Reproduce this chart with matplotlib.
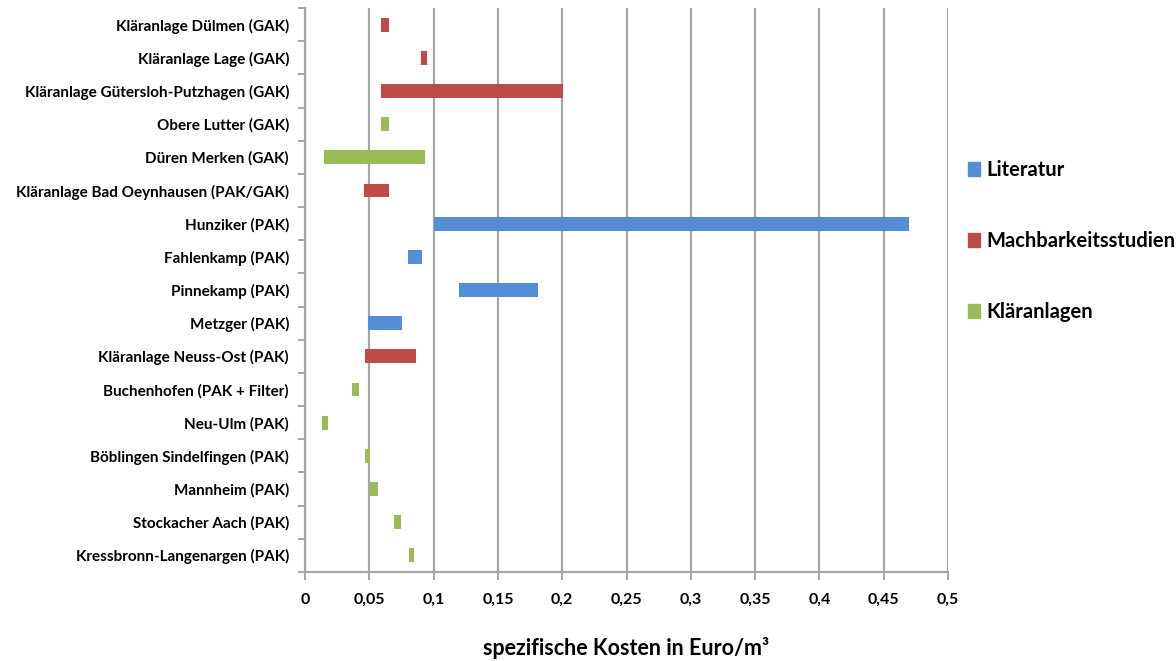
import matplotlib
matplotlib.use("Agg")
import matplotlib.pyplot as plt
from matplotlib.patches import Patch
import numpy as np

plt.rcParams['font.family'] = ['Lato', 'DejaVu Sans']
plt.rcParams['font.weight'] = 'bold'

# categories top to bottom
categories = [
    "Kläranlage Dülmen (GAK)",
    "Kläranlage Lage (GAK)",
    "Kläranlage Gütersloh-Putzhagen (GAK)",
    "Obere Lutter (GAK)",
    "Düren Merken (GAK)",
    "Kläranlage Bad Oeynhausen (PAK/GAK)",
    "Hunziker (PAK)",
    "Fahlenkamp (PAK)",
    "Pinnekamp (PAK)",
    "Metzger (PAK)",
    "Kläranlage Neuss-Ost (PAK)",
    "Buchenhofen (PAK + Filter)",
    "Neu-Ulm (PAK)",
    "Böblingen Sindelfingen (PAK)",
    "Mannheim (PAK)",
    "Stockacher Aach (PAK)",
    "Kressbronn-Langenargen (PAK)",
]
cost_min = [0.059, 0.090, 0.059, 0.059, 0.015, 0.046, 0.100, 0.080, 0.120, 0.049,
            0.047, 0.0365, 0.0135, 0.0465, 0.0505, 0.0695, 0.0805]
cost_max = [0.065, 0.095, 0.201, 0.065, 0.093, 0.065, 0.470, 0.091, 0.181, 0.0755,
            0.086, 0.042, 0.018, 0.0505, 0.0565, 0.075, 0.085]
source = ["M", "M", "M", "K", "K", "M", "L", "L", "L", "L",
          "M", "K", "K", "K", "K", "K", "K"]

group_names = {"L": "Literatur", "M": "Machbarkeitsstudien", "K": "Kläranlagen"}
group_colors = {"L": "#558ED5", "M": "#BE4B48", "K": "#9BBB59"}

fig = plt.figure(figsize=(11.76, 6.61), dpi=100)
ax = fig.add_axes([305/1176, 1 - 572/661, (948 - 305)/1176, (572 - 8)/661])

y = np.arange(len(categories))
widths = np.array(cost_max) - np.array(cost_min)
cols = [group_colors[s] for s in source]
ax.barh(y, widths, left=cost_min, height=0.42, color=cols, zorder=3)

ax.set_xlim(0, 0.5)
ax.set_ylim(len(categories) - 0.5, -0.5)
xt = np.arange(0, 0.5001, 0.05)
ax.set_xticks(xt)
ax.set_xticklabels(["0" if v == 0 else ("%g" % round(v, 2)).replace(".", ",") for v in xt])
ax.set_yticks(y)
ax.set_yticklabels(categories)
ax.set_yticks(np.arange(-0.5, len(categories), 1), minor=True)

ax.grid(axis='x', color='#A6A6A6', linewidth=1.6, zorder=0)
for s in ['top', 'right']:
    ax.spines[s].set_visible(False)
for s in ['left', 'bottom']:
    ax.spines[s].set_color('#A6A6A6')
    ax.spines[s].set_linewidth(1.6)
ax.tick_params(axis='y', which='major', length=0, pad=11.5, labelsize=11)
ax.tick_params(axis='y', which='minor', length=5, width=1.4, color='#A6A6A6')
ax.tick_params(axis='x', length=6, width=1.4, color='#A6A6A6', pad=9, labelsize=11.5)
for lab in ax.get_xticklabels() + ax.get_yticklabels():
    lab.set_fontweight('bold')

ax.set_xlabel("spezifische Kosten in Euro/m³", fontsize=15.5, fontweight='bold', labelpad=22)

handles = [Patch(color=group_colors[k]) for k in ["L", "M", "K"]]
labels = [group_names[k] for k in ["L", "M", "K"]]
leg = fig.legend(handles, labels, loc='upper left', bbox_to_anchor=(968/1176, 1 - 160/661),
                 frameon=False, labelspacing=2.54, handlelength=0.6, handleheight=0.7,
                 handletextpad=0.3, borderpad=0, borderaxespad=0,
                 prop={'weight': 'bold', 'size': 14.5})

fig.savefig("out.png", dpi=100)
